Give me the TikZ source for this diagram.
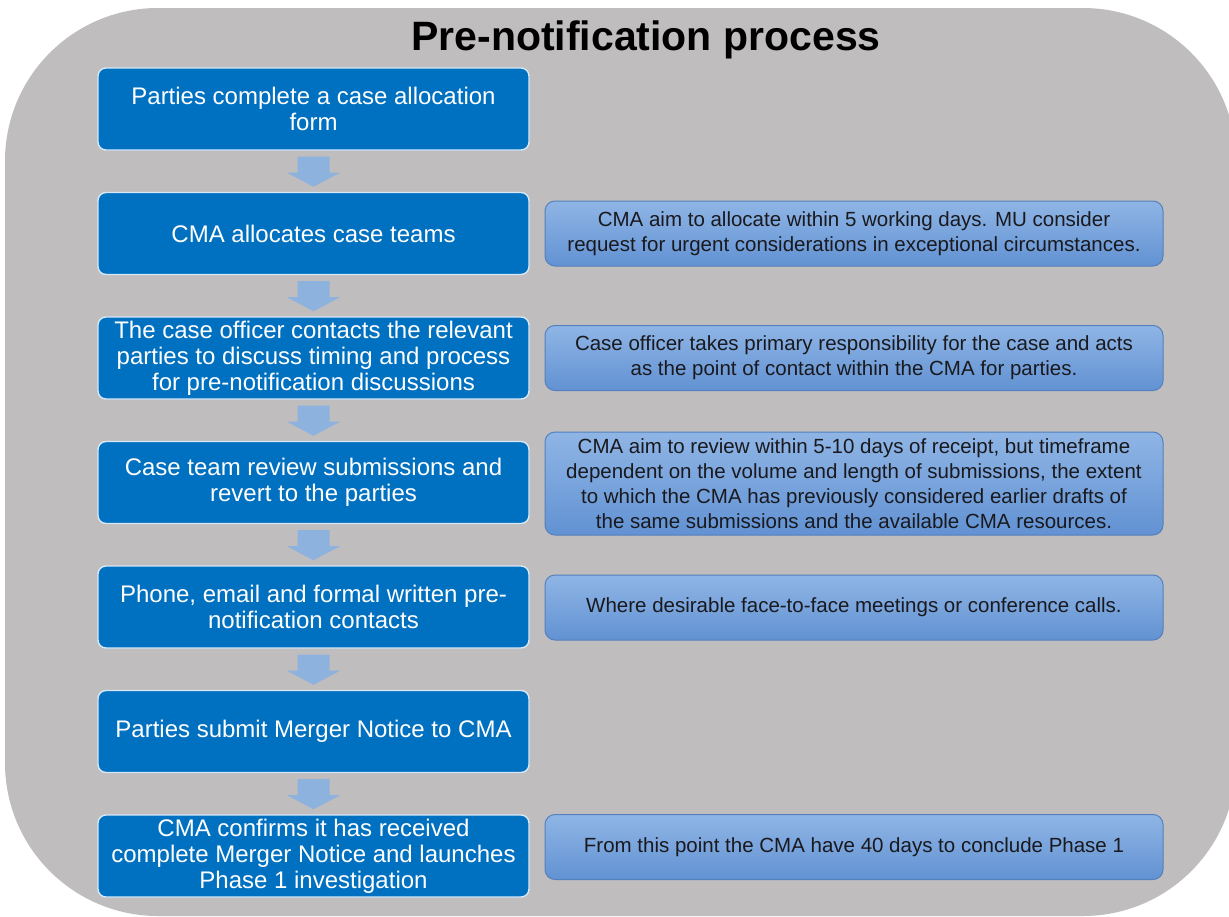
\documentclass[tikz,border=0pt]{standalone}
\usepackage{fontspec}
\setmainfont{Liberation Sans}
\usetikzlibrary{calc}
\definecolor{bggray}{RGB}{191,189,190}
\definecolor{cmablue}{RGB}{0,112,192}
\definecolor{cmaedge}{RGB}{215,232,248}
\definecolor{arrowblue}{RGB}{142,178,222}
\definecolor{rtop}{RGB}{143,181,229}
\definecolor{rbot}{RGB}{98,146,211}
\definecolor{rborder}{RGB}{84,128,188}
\definecolor{rtext}{RGB}{25,25,30}
\tikzset{
  leftbox/.style={rectangle, rounded corners=8pt, fill=cmablue, draw=cmaedge, line width=1.4pt,
    minimum width=431pt, minimum height=82pt, inner sep=0pt, align=center, text=white,
    font=\fontsize{24}{26}\selectfont},
  notebox/.style={rectangle, rounded corners=10pt, top color=rtop, bottom color=rbot, draw=rborder, line width=1pt,
    minimum width=618pt, minimum height=65pt, inner sep=0pt, align=center, text=rtext,
    font=\fontsize{20.5}{25}\selectfont},
  titletext/.style={font=\fontsize{41}{41}\selectfont\bfseries, text=black, inner sep=0pt},
  blockarrow/.style={fill=arrowblue, draw=none}
}
\newcommand{\flowarrow}[2]{%
  \fill[blockarrow] ($(#1.south)+(-16,6)$) -- ($(#1.south)+(16,6)$) -- ($(#1.south)+(16,22)$)
    -- ($(#1.south)+(26.5,22)$) -- ($(#2.north)+(0,-5)$) -- ($(#1.south)+(-26.5,22)$)
    -- ($(#1.south)+(-16,22)$) -- cycle;}
\begin{document}
\begin{tikzpicture}[x=1pt,y=-1pt]
\useasboundingbox (0,0) rectangle (1229,916);
\clip (0,0) rectangle (1229,916);
\fill[bggray, rounded corners=153pt] (5,8) rectangle (1236,916);

\node[titletext, anchor=base] (title) at (646,50) {Pre-notification process};

\node[leftbox] (b1) at (313.5,109) {Parties complete a case allocation\\form};
\node[leftbox] (b2) at (313.5,233.5) {CMA allocates case teams};
\node[leftbox] (b3) at (313.5,358) {The case officer contacts the relevant\\parties to discuss timing and process\\for pre-notification discussions};
\node[leftbox] (b4) at (313.5,482.5) {Case team review submissions and\\revert to the parties};
\node[leftbox] (b5) at (313.5,607) {Phone, email and formal written pre-\\notification contacts};
\node[leftbox] (b6) at (313.5,731.5) {Parties submit Merger Notice to CMA};
\node[leftbox] (b7) at (313.5,856) {CMA confirms it has received\\complete Merger Notice and launches\\Phase 1 investigation};

\flowarrow{b1}{b2}
\flowarrow{b2}{b3}
\flowarrow{b3}{b4}
\flowarrow{b4}{b5}
\flowarrow{b5}{b6}
\flowarrow{b6}{b7}

\node[notebox] (n2) at (854,233.5) {CMA aim to allocate within 5 working days. MU consider\\request for urgent considerations in exceptional circumstances.};
\node[notebox] (n3) at (854,358) {Case officer takes primary responsibility for the case and acts\\as the point of contact within the CMA for parties.};
\node[notebox, minimum height=103pt] (n4) at (854,483.5) {CMA aim to review within 5-10 days of receipt, but timeframe\\dependent on the volume and length of submissions, the extent\\to which the CMA has previously considered earlier drafts of\\the same submissions and the available CMA resources.};
\node[notebox] (n5) at (854,607.5) {Where desirable face-to-face meetings or conference calls.};
\node[notebox] (n7) at (854,847) {From this point the CMA have 40 days to conclude Phase 1};
\end{tikzpicture}
\end{document}
